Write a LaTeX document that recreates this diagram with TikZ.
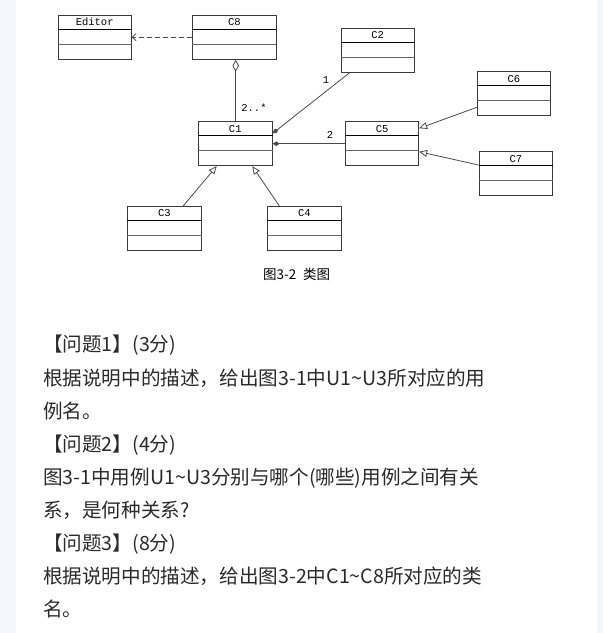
\documentclass[tikz,border=0pt]{standalone}
\usepackage{fontspec}
\setmonofont{Liberation Mono}
\newfontfamily\cjk{Noto Sans CJK SC}
\usetikzlibrary{arrows.meta,calc}
\definecolor{bgblue}{HTML}{F3F6FD}
\definecolor{boxline}{HTML}{3A3A3A}
\definecolor{linkline}{HTML}{4A4A4A}
\definecolor{txt}{HTML}{2A2A2A}
\tikzset{
  cls/.style={draw=boxline, line width=0.9pt, rectangle, inner sep=0pt, minimum width=73pt, minimum height=44pt},
  clslabel/.style={inner sep=0pt, font=\ttfamily\fontsize{10.5}{10.5}\selectfont, text=black},
  div1/.style={draw=black, line width=0.9pt},
  div2/.style={draw=gray!80!black, line width=0.9pt},
  link/.style={draw=linkline, line width=0.8pt},
  gen/.style={link, -{Triangle[open, length=8pt, width=7pt]}},
  comp/.style={link, -{Diamond[length=7pt, width=4.5pt]}},
  mult/.style={inner sep=0pt, font=\ttfamily\fontsize{10.5}{10.5}\selectfont, text=black},
  qline/.style={anchor=base west, inner sep=0pt, font=\cjk\fontsize{19.6}{19.6}\selectfont, text=txt},
}
\newcommand\umlclass[4][73]{%
  \node[cls, minimum width=#1pt] (#2) at (#3) {};
  \node[clslabel] (#2-l) at ($(#2.north)+(0,7.5)$) {#4};
  \draw[div1] ($(#2.north west)+(0,14.5)$) -- ($(#2.north east)+(0,14.5)$);
  \draw[div2] ($(#2.north west)+(0,29.3)$) -- ($(#2.north east)+(0,29.3)$);
}
\begin{document}
\begin{tikzpicture}[x=1pt,y=-1pt]
\fill[bgblue] (0,0) rectangle (603,633);
\fill[white] (16,0) rectangle (597,633);
\useasboundingbox (0,0) rectangle (603,633);

\umlclass[72.7]{editor}{94.7,37.2}{Editor}
\umlclass[83.3]{c8}{234.3,37.2}{C8}
\umlclass[73.3]{c2}{377.7,50.3}{C2}
\umlclass[74]{c1}{235.3,143.7}{C1}
\umlclass[73]{c5}{382.2,143.7}{C5}
\umlclass[73]{c6}{513.8,93.7}{C6}
\umlclass[73.7]{c7}{515.8,173.8}{C7}
\umlclass[73.7]{c3}{164.5,228.3}{C3}
\umlclass[73.3]{c4}{304.3,228.3}{C4}

% dependency
\draw[link, dashed, dash pattern=on 5pt off 3pt, -{Straight Barb[length=4pt, width=7pt]}] (c8.west) -- (editor.east);
% aggregation
\draw[link, -{Diamond[open, length=12pt, width=6.5pt]}] ($(c1.north)+(0.4,0)$) -- ($(c8.south)+(1.4,0)$);
% compositions
\draw[comp] ($(c2.south west)+(9,0)$) -- ($(c1.east)+(0,-10.4)$);
\draw[comp] (c5.west) -- (c1.east);
% generalizations
\draw[gen] ($(c3.north)+(18.8,0)$) -- ($(c1.south)+(-18.6,0)$);
\draw[gen] ($(c4.north)+(-25,0)$) -- ($(c1.south)+(17,0)$);
\draw[gen] ($(c6.west)+(0,13.6)$) -- ($(c5.east)+(0,-15.4)$);
\draw[gen] ($(c7.west)+(0,-8.8)$) -- ($(c5.east)+(0,8)$);

% multiplicities
\node[mult] (m1) at (254,108) {2..*};
\node[mult] (m2) at (326,80) {1};
\node[mult] (m3) at (330,135) {2};

% caption
\node[inner sep=0pt, font=\cjk\fontsize{13.5}{13.5}\selectfont, text=black] (cap) at (296.7,274) {图3-2\enspace 类图};

% questions
\node[qline] (q1) at (43,351.5) {【问题1】(3分)};
\node[qline] (q2) at (43,385) {根据说明中的描述，给出图3-1中U1\textasciitilde U3所对应的用};
\node[qline] (q3) at (43,418) {例名。};
\node[qline] (q4) at (43,451) {【问题2】(4分)};
\node[qline] (q5) at (43,484) {图3-1中用例U1\textasciitilde U3分别与哪个(哪些)用例之间有关};
\node[qline] (q6) at (43,517) {系，是何种关系?};
\node[qline] (q7) at (43,550) {【问题3】(8分)};
\node[qline] (q8) at (43,583) {根据说明中的描述，给出图3-2中C1\textasciitilde C8所对应的类};
\node[qline] (q9) at (43,616) {名。};
\end{tikzpicture}
\end{document}
